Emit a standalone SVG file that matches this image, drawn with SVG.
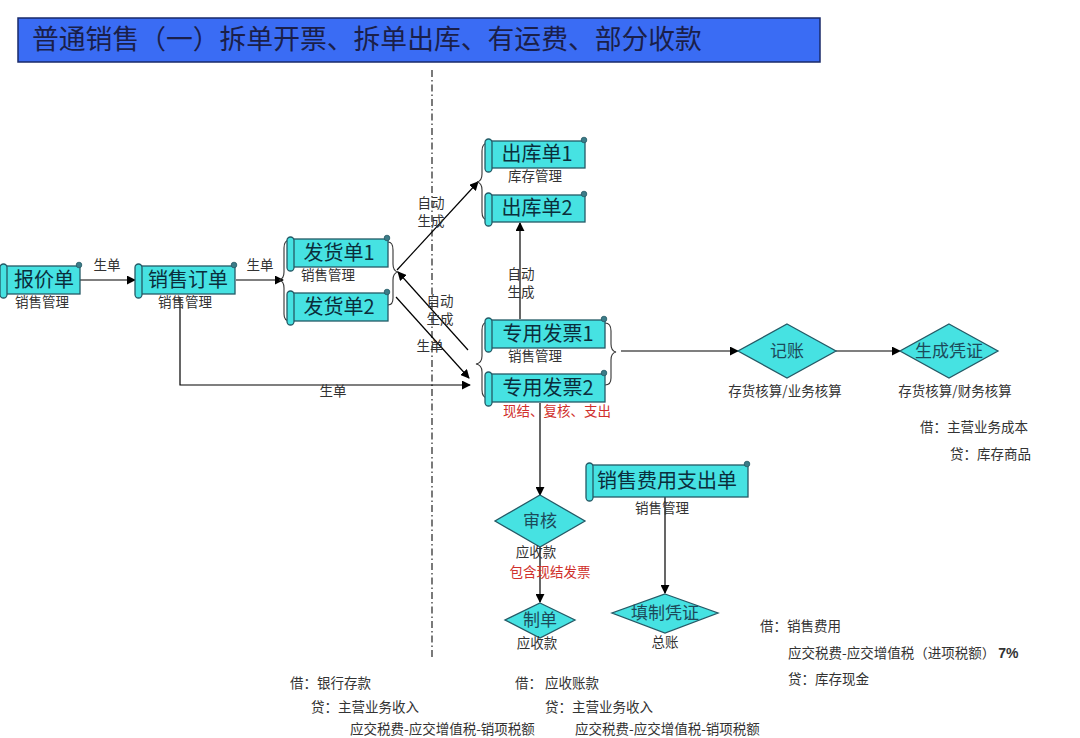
<svg xmlns="http://www.w3.org/2000/svg" width="1080" height="738" viewBox="0 0 1080 738">
<defs>
<marker id="ah" viewBox="0 0 10 10" refX="9" refY="5" markerWidth="9" markerHeight="9" markerUnits="userSpaceOnUse" orient="auto">
<path d="M0,0 L10,5 L0,10 z" fill="#000"/>
</marker>
<style>
.body{fill:#46e2e2;stroke:#245a66;stroke-width:1.3}
.roll{fill:#46e2e2;stroke:#245a66;stroke-width:1.3}
.knob{fill:#3c7c88;stroke:#245a66;stroke-width:0.8}
.nt{font-family:"Noto Sans CJK SC","Liberation Sans",sans-serif;font-size:20px;fill:#0b2e3c;text-anchor:middle}
.dm{fill:#46e2e2;stroke:#245a66;stroke-width:1.3}
.dt{font-family:"Noto Sans CJK SC","Liberation Sans",sans-serif;font-size:17px;fill:#1c4a5a;text-anchor:middle}
.lb{font-family:"Noto Sans CJK SC","Liberation Sans",sans-serif;font-size:13.5px;fill:#333;text-anchor:middle}
.lbl{font-family:"Noto Sans CJK SC","Liberation Sans",sans-serif;font-size:13.5px;fill:#333}
.red{font-family:"Noto Sans CJK SC","Liberation Sans",sans-serif;font-size:13.5px;fill:#d0302c;text-anchor:middle}
.cn{fill:none;stroke:#000;stroke-width:1.2}
.br{fill:none;stroke:#333;stroke-width:1.1}
</style>
</defs>
<rect width="1080" height="738" fill="#fff"/>

<g id="title">
<rect x="18" y="18" width="802" height="44" fill="#3a6cf4" stroke="#1a2a6a" stroke-width="1.5"/>
<text x="32" y="49" font-family="Noto Sans CJK SC,Liberation Sans,sans-serif" font-size="26.8" fill="#1a1f4a">普通销售（一）拆单开票、拆单出库、有运费、部分收款</text>
</g>

<line x1="432" y1="70" x2="432" y2="660" stroke="#222" stroke-width="1.2" stroke-dasharray="7,3,1.5,3"/>

<g id="connectors">
<line class="cn" x1="80" y1="280" x2="135" y2="280" marker-end="url(#ah)"/>
<text class="lb" x="107" y="270">生单</text>
<line class="cn" x1="236" y1="280" x2="283" y2="280" marker-end="url(#ah)"/>
<text class="lb" x="260" y="270">生单</text>
<line class="cn" x1="397" y1="270" x2="478" y2="182" marker-end="url(#ah)"/>
<text class="lb" x="431" y="208">自动</text>
<text class="lb" x="431" y="226">生成</text>
<line class="cn" x1="468" y1="350" x2="398" y2="272" marker-end="url(#ah)"/>
<text class="lb" x="440" y="306">自动</text>
<text class="lb" x="440" y="324">生成</text>
<line class="cn" x1="396" y1="297" x2="469" y2="378" marker-end="url(#ah)"/>
<text class="lb" x="430" y="351">生单</text>
<polyline class="cn" points="180,297 180,385 470,385" marker-end="url(#ah)"/>
<text class="lb" x="333" y="396">生单</text>
<line class="cn" x1="520" y1="319" x2="520" y2="223" marker-end="url(#ah)"/>
<text class="lb" x="521" y="279">自动</text>
<text class="lb" x="521" y="297">生成</text>
<line class="cn" x1="621" y1="351" x2="738" y2="351" marker-end="url(#ah)"/>
<line class="cn" x1="836" y1="351" x2="900" y2="351" marker-end="url(#ah)"/>
<line class="cn" x1="540" y1="403" x2="540" y2="495" marker-end="url(#ah)"/>
<line class="cn" x1="540" y1="546" x2="540" y2="602" marker-end="url(#ah)"/>
<line class="cn" x1="665" y1="482" x2="665" y2="593" marker-end="url(#ah)"/>
</g>

<g id="braces">
<path class="br" d="M290,240 Q284,240 284,248 L284,272 Q284,279 279,280 Q284,281 284,288 L284,314 Q284,321 290,321"/>
<path class="br" d="M388,242 Q393,242 393,250 L393,264 Q393,271 398,272 Q393,273 393,280 L393,298 Q393,305 388,305"/>
<path class="br" d="M488,143 Q482,143 482,151 L482,174 Q482,181 477,182 Q482,183 482,190 L482,212 Q482,220 488,220"/>
<path class="br" d="M488,322 Q482,322 482,330 L482,356 Q482,363 476,364 Q482,365 482,372 L482,390 Q482,398 488,398"/>
<path class="br" d="M605,323 Q611,323 611,331 L611,344 Q611,351 616,352 Q611,353 611,360 L611,378 Q611,385 605,385"/>
</g>

<g id="n-baojiadan">
<rect class="body" x="4" y="266" width="76" height="28"/>
<rect class="roll" x="0" y="264" width="7" height="34" rx="3.5"/>
<circle class="knob" cx="79" cy="265" r="2.8"/>
<text class="nt" x="44" y="287">报价单</text>
<text class="lb" x="42" y="307">销售管理</text>
</g>

<g id="n-xiaoshoudingdan">
<rect class="body" x="139" y="266" width="96" height="28"/>
<rect class="roll" x="135" y="264" width="7" height="34" rx="3.5"/>
<circle class="knob" cx="234" cy="265" r="2.8"/>
<text class="nt" x="188" y="287" font-size="21">销售订单</text>
<text class="lb" x="185" y="307">销售管理</text>
</g>

<g id="n-fahuodan1">
<rect class="body" x="291" y="239" width="97" height="28"/>
<rect class="roll" x="287" y="237" width="7" height="34" rx="3.5"/>
<circle class="knob" cx="387" cy="238" r="2.8"/>
<text class="nt" x="339" y="260">发货单1</text>
<text class="lb" x="328" y="280">销售管理</text>
</g>

<g id="n-fahuodan2">
<rect class="body" x="291" y="293" width="97" height="28"/>
<rect class="roll" x="287" y="291" width="7" height="34" rx="3.5"/>
<circle class="knob" cx="387" cy="292" r="2.8"/>
<text class="nt" x="339" y="314">发货单2</text>
</g>

<g id="n-chukudan1">
<rect class="body" x="489" y="141" width="96" height="27"/>
<rect class="roll" x="485" y="139" width="7" height="33" rx="3.5"/>
<circle class="knob" cx="584" cy="140" r="2.8"/>
<text class="nt" x="537" y="161">出库单1</text>
<text class="lb" x="535" y="181">库存管理</text>
</g>

<g id="n-chukudan2">
<rect class="body" x="489" y="195" width="96" height="27"/>
<rect class="roll" x="485" y="193" width="7" height="33" rx="3.5"/>
<circle class="knob" cx="584" cy="194" r="2.8"/>
<text class="nt" x="537" y="215">出库单2</text>
</g>

<g id="n-fapiao1">
<rect class="body" x="489" y="320" width="116" height="28"/>
<rect class="roll" x="485" y="318" width="7" height="34" rx="3.5"/>
<circle class="knob" cx="604" cy="319" r="2.8"/>
<text class="nt" x="548" y="341">专用发票1</text>
<text class="lb" x="535" y="361">销售管理</text>
</g>

<g id="n-fapiao2">
<rect class="body" x="489" y="374" width="116" height="28"/>
<rect class="roll" x="485" y="372" width="7" height="34" rx="3.5"/>
<circle class="knob" cx="604" cy="373" r="2.8"/>
<text class="nt" x="548" y="395">专用发票2</text>
<text class="red" x="557" y="416">现结、复核、支出</text>
</g>

<g id="n-feiyong">
<rect class="body" x="590" y="465" width="158" height="32"/>
<rect class="roll" x="586" y="463" width="7" height="38" rx="3.5"/>
<circle class="knob" cx="747" cy="464" r="2.8"/>
<text class="nt" x="667" y="488" font-size="21">销售费用支出单</text>
<text class="lb" x="662" y="513">销售管理</text>
</g>

<g id="n-jizhang">
<polygon class="dm" points="787,324 836,351 787,378 738,351"/>
<text class="dt" x="787" y="357" font-size="18">记账</text>
<text class="lb" x="785" y="396">存货核算/业务核算</text>
</g>

<g id="n-shengcheng">
<polygon class="dm" points="949,324 998,351 949,378 900,351"/>
<text class="dt" x="949" y="357" font-size="18">生成凭证</text>
<text class="lb" x="955" y="396">存货核算/财务核算</text>
</g>

<g id="n-shenhe">
<polygon class="dm" points="540,495 585,521 540,547 495,521"/>
<text class="dt" x="540" y="527">审核</text>
<text class="lb" x="536" y="557">应收款</text>
<text class="red" x="550" y="577">包含现结发票</text>
</g>

<g id="n-zhidan">
<polygon class="dm" points="540,603 575,620 540,638 505,620"/>
<text class="dt" x="540" y="626">制单</text>
<text class="lb" x="537" y="648">应收款</text>
</g>

<g id="n-tianzhi">
<polygon class="dm" points="665,594 718,613 665,633 612,613"/>
<text class="dt" x="665" y="619">填制凭证</text>
<text class="lb" x="665" y="647">总账</text>
</g>

<g id="entries">
<text class="lbl" x="920" y="432">借：主营业务成本</text>
<text class="lbl" x="950" y="459">贷：库存商品</text>
<text class="lbl" x="760" y="631">借：销售费用</text>
<text class="lbl" x="788" y="658">应交税费-应交增值税（进项税额） <tspan font-family="Liberation Sans,sans-serif" font-size="14" font-weight="bold">7%</tspan></text>
<text class="lbl" x="788" y="684">贷：库存现金</text>
<text class="lbl" x="290" y="688">借：银行存款</text>
<text class="lbl" x="311" y="712">贷：主营业务收入</text>
<text class="lbl" x="350" y="734">应交税费-应交增值税-销项税额</text>
<text class="lbl" x="515" y="688">借： 应收账款</text>
<text class="lbl" x="545" y="712">贷：主营业务收入</text>
<text class="lbl" x="575" y="734">应交税费-应交增值税-销项税额</text>
</g>
</svg>
